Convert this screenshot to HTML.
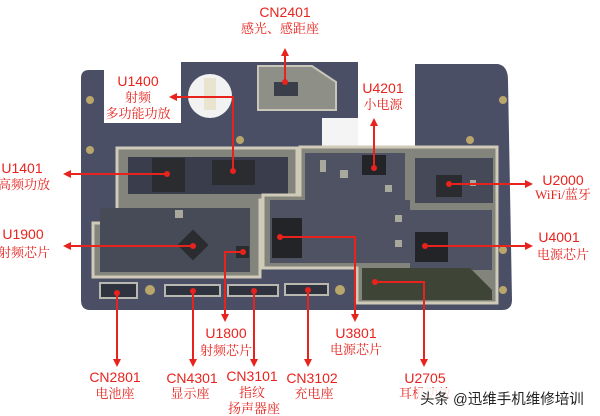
<!DOCTYPE html>
<html><head><meta charset="utf-8"><style>
html,body{margin:0;padding:0;background:#fff;}
svg{display:block}
.c{font-family:"Liberation Sans",sans-serif;font-size:14px;fill:#e8231e;text-anchor:middle}
.z{font-family:"Liberation Serif","Noto Serif CJK SC",serif;font-size:13px;fill:#e8231e;text-anchor:middle}
.r{stroke:#e8231e;stroke-width:2;fill:none}
</style></head><body>
<svg width="600" height="416" viewBox="0 0 600 416" xmlns="http://www.w3.org/2000/svg">
<defs><marker id="a" markerWidth="8" markerHeight="8" refX="6" refY="4" orient="auto" markerUnits="userSpaceOnUse"><path d="M0,0 L8,4 L0,8 z" fill="#e8231e"/></marker></defs>
<path d="M81,78 Q81,70 89,70 L104,70 L104,123 L181,123 L181,62 L358,62 L358,148 L415,148 L415,64 L498,64 Q508,66 508,80 L512,300 Q512,310 502,310 L90,310 Q81,310 81,300 Z" fill="#4a4f66"/>
<rect x="322" y="118" width="36" height="29" fill="#f4f4f4"/>
<circle cx="210" cy="96" r="22" fill="#f2f2f2"/>
<rect x="204" y="78" width="12" height="32" fill="#e8e4d0"/>
<g fill="#b9a66a"><circle cx="90" cy="100" r="4"/><circle cx="90" cy="150" r="4"/><circle cx="503" cy="100" r="4"/><circle cx="503" cy="250" r="4"/><circle cx="503" cy="290" r="4"/><circle cx="150" cy="290" r="5"/><circle cx="340" cy="290" r="5"/><circle cx="240" cy="140" r="4"/><circle cx="470" cy="140" r="4"/></g>
<path d="M258,66 L312,66 L336,82 L336,110 L258,110 Z" fill="#8e8f86" stroke="#c8c6b8" stroke-width="2"/>
<rect x="274" y="82" width="24" height="14" fill="#3a3e4a"/>
<path d="M117,148 L297,148 L297,200 L260,200 L260,277 L93,277 L93,223 L117,223 Z" fill="#83847c" stroke="#cfcbb8" stroke-width="3"/>
<rect x="128" y="157" width="160" height="37" fill="#3a3e4c"/>
<rect x="100" y="208" width="150" height="64" fill="#474b58"/>
<path d="M300,147 L497,147 L497,303 L357,303 L357,268 L263,268 L263,195 L300,195 Z" fill="#83847c" stroke="#cfcbb8" stroke-width="3"/>
<rect x="305" y="153" width="100" height="110" fill="#4e5262"/>
<rect x="270" y="200" width="140" height="63" fill="#4e5262"/>
<rect x="415" y="158" width="78" height="45" fill="#464a58"/>
<rect x="410" y="210" width="82" height="60" fill="#4e5262"/>
<path d="M362,268 L470,268 L492,290 L492,300 L362,300 Z" fill="#3e4436"/>
<g fill="#a8a89c"><rect x="340" y="170" width="8" height="8"/><rect x="385" y="185" width="7" height="7"/><rect x="395" y="215" width="7" height="7"/><rect x="395" y="240" width="7" height="7"/><rect x="320" y="160" width="6" height="12"/><rect x="175" y="210" width="8" height="8"/><rect x="470" y="180" width="6" height="6"/></g>
<rect x="152" y="158" width="33" height="34" fill="#2a2c30"/>
<rect x="212" y="160" width="43" height="25" fill="#2a2c30"/>
<rect x="362" y="155" width="24" height="20" fill="#222428"/>
<rect x="436" y="175" width="26" height="22" fill="#2a2c30"/>
<rect x="415" y="232" width="33" height="30" fill="#222428"/>
<rect x="272" y="218" width="30" height="40" fill="#222428"/>
<rect x="182" y="234" width="22" height="22" fill="#2a2c30" transform="rotate(45 193 245)"/>
<rect x="236" y="246" width="13" height="12" fill="#2a2c30"/>
<g fill="#2f3340" stroke="#b8b8b0" stroke-width="2">
<rect x="100" y="283" width="37" height="15"/>
<rect x="165" y="285" width="55" height="11"/>
<rect x="228" y="285" width="50" height="11"/>
<rect x="285" y="284" width="43" height="11"/>
</g>
<g class="r">
<path d="M285,82 V50" marker-end="url(#a)"/>
<path d="M233,171 V97 H171" marker-end="url(#a)"/>
<path d="M374,168 V120" marker-end="url(#a)"/>
<path d="M167,174 H65" marker-end="url(#a)"/>
<path d="M449,184 H531" marker-end="url(#a)"/>
<path d="M193,246 H65" marker-end="url(#a)"/>
<path d="M425,246 H531" marker-end="url(#a)"/>
<path d="M243,252 H225 V320" marker-end="url(#a)"/>
<path d="M280,237 H355 V320" marker-end="url(#a)"/>
<path d="M117,293 V365" marker-end="url(#a)"/>
<path d="M193,291 V365" marker-end="url(#a)"/>
<path d="M254,291 V365" marker-end="url(#a)"/>
<path d="M308,290 V365" marker-end="url(#a)"/>
<path d="M375,282 H424 V365" marker-end="url(#a)"/>
</g>
<g fill="#e8231e"><circle cx="285" cy="82" r="3"/><circle cx="233" cy="171" r="3"/><circle cx="374" cy="168" r="3"/><circle cx="167" cy="174" r="3"/><circle cx="449" cy="184" r="3"/><circle cx="193" cy="246" r="3"/><circle cx="425" cy="246" r="3"/><circle cx="243" cy="252" r="3"/><circle cx="280" cy="237" r="3"/><circle cx="117" cy="293" r="3"/><circle cx="193" cy="291" r="3"/><circle cx="254" cy="291" r="3"/><circle cx="308" cy="290" r="3"/><circle cx="375" cy="282" r="3"/></g>
<text class="c" x="285" y="17">CN2401</text><text class="z" x="280" y="33">感光、感距座</text>
<text class="c" x="138" y="86">U1400</text><text class="z" x="138" y="102">射频</text><text class="z" x="138" y="118">多功能功放</text>
<text class="c" x="383" y="93">U4201</text><text class="z" x="383" y="109">小电源</text>
<text class="c" x="22" y="173">U1401</text><text class="z" x="24" y="189">高频功放</text>
<text class="c" x="563" y="185">U2000</text><text class="z" x="563" y="199">WiFi/蓝牙</text>
<text class="c" x="23" y="239">U1900</text><text class="z" x="24" y="257">射频芯片</text>
<text class="c" x="559" y="242">U4001</text><text class="z" x="563" y="259">电源芯片</text>
<text class="c" x="226" y="338">U1800</text><text class="z" x="226" y="355">射频芯片</text>
<text class="c" x="356" y="338">U3801</text><text class="z" x="356" y="354">电源芯片</text>
<text class="c" x="115" y="382">CN2801</text><text class="z" x="115" y="398">电池座</text>
<text class="c" x="192" y="383">CN4301</text><text class="z" x="190" y="398">显示座</text>
<text class="c" x="252" y="381">CN3101</text><text class="z" x="252" y="397">指纹</text><text class="z" x="254" y="413">扬声器座</text>
<text class="c" x="312" y="383">CN3102</text><text class="z" x="314" y="398">充电座</text>
<text class="c" x="425" y="383">U2705</text><text class="z" x="425" y="398">耳机功放</text>
<rect x="418" y="388" width="174" height="20" fill="#fff" opacity="0.85"/>
<text x="420" y="404" font-family="Liberation Sans,'Noto Sans CJK SC',sans-serif" font-size="14.5" fill="#222">头条 @迅维手机维修培训</text>
</svg>
</body></html>
